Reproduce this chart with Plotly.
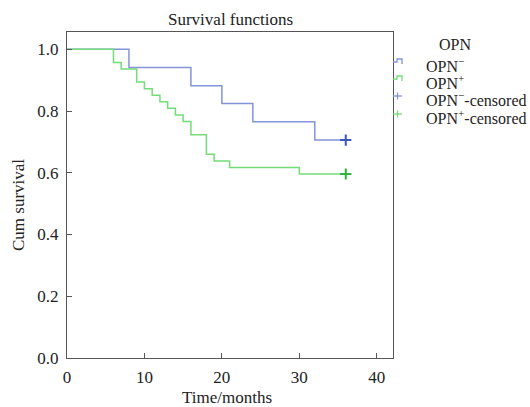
import plotly.graph_objects as go

# Kaplan-Meier step data
neg_time = [0, 8, 16, 20, 24, 32, 36]
neg_surv = [1.0, 0.941, 0.882, 0.824, 0.765, 0.706, 0.706]
pos_time = [0, 6, 7, 9, 10, 11, 12, 13, 14, 15, 16, 18, 19, 21, 30, 36]
pos_surv = [1.0, 0.957, 0.936, 0.894, 0.872, 0.851, 0.830, 0.809, 0.787,
            0.766, 0.723, 0.660, 0.638, 0.617, 0.596, 0.596]
neg_cens_time = [36]
neg_cens_surv = [0.706]
pos_cens_time = [36]
pos_cens_surv = [0.596]
x_ticks = [0, 10, 20, 30, 40]
y_ticks = [0.0, 0.2, 0.4, 0.6, 0.8, 1.0]
legend_title = "OPN"
legend_labels = ["OPN<sup>−</sup>", "OPN<sup>+</sup>",
                 "OPN<sup>−</sup>-censored", "OPN<sup>+</sup>-censored"]

blue_line = "#8494d8"
green_line = "#74dc78"
blue_mark = "#3a55c0"
green_mark = "#2fb040"
font = "Liberation Serif"
txt = "#222"

W, H = 530, 407
L, R, T, B = 67, 137, 32, 49
PW, PH = W - L - R, H - T - B


def px(x):
    return (x - L) / PW


def py(y):
    return (H - B - y) / PH


fig = go.Figure()
fig.add_trace(go.Scatter(x=neg_time, y=neg_surv, mode="lines", line_shape="hv",
                         line=dict(color=blue_line, width=1.5), name=legend_labels[0]))
fig.add_trace(go.Scatter(x=pos_time, y=pos_surv, mode="lines", line_shape="hv",
                         line=dict(color=green_line, width=1.5), name=legend_labels[1]))
fig.add_trace(go.Scatter(x=neg_cens_time, y=neg_cens_surv, mode="markers",
                         marker=dict(symbol="cross-thin", size=8,
                                     line=dict(color=blue_mark, width=2)),
                         name=legend_labels[2]))
fig.add_trace(go.Scatter(x=pos_cens_time, y=pos_cens_surv, mode="markers",
                         marker=dict(symbol="cross-thin", size=8,
                                     line=dict(color=green_mark, width=2)),
                         name=legend_labels[3]))

annotations = [
    dict(text="Survival functions", x=px((L + L + PW) / 2), y=py(20), xref="paper",
         yref="paper", showarrow=False, xanchor="center", yanchor="middle",
         font=dict(size=17)),
    dict(text="Time/months", x=px(227), y=py(397), xref="paper",
         yref="paper", showarrow=False, xanchor="center", yanchor="middle",
         font=dict(size=17)),
    dict(text="Cum survival", x=px(18), y=py(205), xref="paper", yref="paper",
         showarrow=False, xanchor="center", yanchor="middle", textangle=-90,
         font=dict(size=17)),
    dict(text=legend_title, x=px(455), y=py(44), xref="paper", yref="paper",
         showarrow=False, xanchor="center", yanchor="middle", font=dict(size=16)),
]
shapes = []
row_y = [65, 82, 99, 117]
colors_line = [blue_line, green_line]
colors_mark = [blue_line, green_line]
for i, (lab, yy) in enumerate(zip(legend_labels, row_y)):
    annotations.append(dict(text=lab, x=px(424), y=py(yy), xref="paper", yref="paper",
                            showarrow=False, xanchor="left", yanchor="middle",
                            font=dict(size=16)))
    c = yy - 3
    if i < 2:
        x0, x1, x2 = px(393), px(397), px(402)
        ylo, yhi, yend = py(c), py(c - 3), py(c + 2)
        shapes.append(dict(type="path", xref="paper", yref="paper",
                           path=f"M {x0},{ylo} L {x1},{ylo} L {x1},{yhi} L {x2},{yhi} L {x2},{yend}",
                           line=dict(color=colors_line[i], width=1.3)))
    else:
        col = colors_mark[i - 2]
        cx = 397.5
        shapes.append(dict(type="line", xref="paper", yref="paper",
                           x0=px(cx - 4.5), x1=px(cx + 4.5), y0=py(c), y1=py(c),
                           line=dict(color=col, width=1.3)))
        shapes.append(dict(type="line", xref="paper", yref="paper",
                           x0=px(cx), x1=px(cx), y0=py(c - 3.5), y1=py(c + 3.5),
                           line=dict(color=col, width=1.3)))

fig.update_layout(
    width=W, height=H,
    margin=dict(l=L, r=R, t=T, b=B, autoexpand=False),
    paper_bgcolor="white", plot_bgcolor="white",
    font=dict(family=font, size=16, color=txt),
    showlegend=False,
    annotations=annotations,
    shapes=shapes,
)
fig.update_xaxes(range=[0, 42.1], tickvals=x_ticks, ticks="inside", ticklen=5,
                 showgrid=False, zeroline=False, showline=True, linecolor="#555",
                 linewidth=1.2, mirror=True, tickcolor="#555", automargin=False,
                 tickfont=dict(size=17), ticklabelstandoff=3)
fig.update_yaxes(range=[0, 1.056], tickvals=y_ticks, tickformat=".1f", ticks="inside",
                 ticklen=5, showgrid=False, zeroline=False, showline=True,
                 linecolor="#555", linewidth=1.2, mirror=True, tickcolor="#555",
                 automargin=False, tickfont=dict(size=17), ticklabelstandoff=4)

fig.write_html("out.html", config={"displayModeBar": False},
               post_script="document.body.style.margin='0';document.body.style.overflow='hidden';")
